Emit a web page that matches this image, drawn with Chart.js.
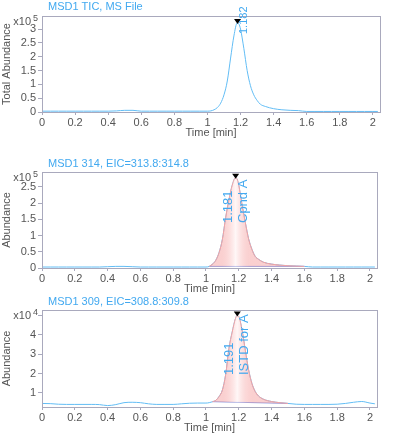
<!DOCTYPE html>
<html lang="en">
<head>
    <meta charset="UTF-8">
    <title>MSD1 Chromatograms</title>
    <style>
        body {
            margin: 0;
            padding: 0;
            background-color: #fff;
            font-family: Arial, "Liberation Sans", sans-serif;
        }
        .wrap {
            position: relative;
            width: 399px;
            height: 441px;
        }
        .wrap canvas {
            position: absolute;
            left: 0;
        }
    </style>
</head>
<body>
    <div class="wrap">
        <canvas id="ticChart" width="399" height="145" style="top:0px"></canvas>
        <canvas id="eic314Chart" width="399" height="155" style="top:145px"></canvas>
        <canvas id="eic309Chart" width="399" height="146" style="top:295px"></canvas>
    </div>

    <script src="https://cdn.jsdelivr.net/npm/chart.js"></script>
    <script>
        // retention time (min)
        const times = [0.00, 0.05, 0.10, 0.15, 0.20, 0.25, 0.30, 0.35, 0.40, 0.45, 0.50, 0.55, 0.60, 0.65, 0.70, 0.75, 0.80, 0.85, 0.90, 0.95, 1.00,
            1.02, 1.04, 1.06, 1.08, 1.10, 1.12, 1.14, 1.16, 1.18, 1.19, 1.20, 1.22, 1.24, 1.26, 1.28, 1.30, 1.32,
            1.35, 1.40, 1.45, 1.50, 1.55, 1.60, 1.65, 1.70, 1.75, 1.80, 1.85, 1.90, 1.95, 2.00, 2.03];

        // TIC, x10^5
        const ticValues = [0.03, 0.03, 0.03, 0.03, 0.03, 0.03, 0.03, 0.03, 0.03, 0.04, 0.06, 0.06, 0.03, 0.03, 0.03, 0.03, 0.03, 0.03, 0.03, 0.03, 0.03,
            0.04, 0.08, 0.16, 0.32, 0.62, 1.12, 1.95, 2.75, 3.22, 3.18, 3.00, 2.30, 1.50, 0.95, 0.62, 0.42, 0.28,
            0.20, 0.12, 0.08, 0.06, 0.05, 0.02, 0.02, 0.02, 0.02, 0.02, 0.02, 0.02, 0.02, 0.02, 0.02];

        // EIC 313.8:314.8, x10^5
        const eic314Values = [0.03, 0.03, 0.03, 0.03, 0.03, 0.03, 0.03, 0.03, 0.04, 0.05, 0.05, 0.04, 0.03, 0.03, 0.03, 0.03, 0.03, 0.03, 0.03, 0.03, 0.03,
            0.05, 0.12, 0.24, 0.48, 0.88, 1.55, 2.10, 2.55, 2.78, 2.74, 2.55, 1.95, 1.40, 0.90, 0.58, 0.36, 0.27,
            0.18, 0.12, 0.09, 0.07, 0.06, 0.05, 0.03, 0.03, 0.03, 0.03, 0.03, 0.03, 0.03, 0.03, 0.03];

        // EIC 308.8:309.8, x10^4
        const eic309Values = [0.46, 0.45, 0.42, 0.41, 0.41, 0.41, 0.41, 0.40, 0.35, 0.40, 0.50, 0.52, 0.50, 0.44, 0.41, 0.41, 0.41, 0.44, 0.47, 0.48, 0.48,
            0.50, 0.55, 0.62, 0.82, 1.15, 1.95, 3.30, 4.15, 4.85, 5.00, 4.95, 4.25, 3.20, 2.20, 1.50, 1.08, 0.85,
            0.68, 0.56, 0.50, 0.46, 0.42, 0.41, 0.41, 0.41, 0.41, 0.42, 0.46, 0.52, 0.56, 0.48, 0.44];

        // labelled ticks
        const xTicks = [0, 0.2, 0.4, 0.6, 0.8, 1, 1.2, 1.4, 1.6, 1.8, 2];
        const ticYTicks = [0, 0.5, 1, 1.5, 2, 2.5, 3];
        const eic314YTicks = [0, 0.5, 1, 1.5, 2, 2.5];
        const eic309YTicks = [1, 2, 3, 4];

        // peak retention times, compound names, integration windows
        const peakTimes = [1.182, 1.181, 1.191];
        const peakNames = ['', 'Cpnd A', 'ISTD for A'];
        const peakStarts = [null, 1.02, 1.04];
        const peakEnds = [null, 1.60, 1.50];

        const traceBlue = '#62bdf5';
        const textBlue = '#42a9f0';
        const frameGrey = '#a9a9bd';
        const tickGrey = '#555';

        function toPoints(values) {
            return times.map((t, i) => ({ x: t, y: values[i] }));
        }

        function apexOf(values) {
            return Math.max(...values);
        }

        function stepOf(list) {
            return list[1] - list[0];
        }

        function tickLabel(list) {
            return v => list.some(t => Math.abs(t - v) < 1e-6) ? String(Math.round(v * 10) / 10) : '';
        }

        // frame, titles, exponent and peak annotations
        const chromDecor = {
            id: 'chromDecor',
            afterDraw(chart, args, o) {
                const { ctx, chartArea: a, scales: { x, y } } = chart;
                ctx.save();
                ctx.strokeStyle = frameGrey;
                ctx.lineWidth = 1;
                ctx.strokeRect(a.left + 0.5, a.top + 0.5, a.right - a.left, a.bottom - a.top);

                ctx.fillStyle = textBlue;
                ctx.font = '11px Arial';
                ctx.textAlign = 'left';
                ctx.textBaseline = 'middle';
                ctx.fillText(o.title, 48, o.titleY);

                ctx.fillStyle = tickGrey;
                ctx.textAlign = 'right';
                ctx.textBaseline = 'alphabetic';
                ctx.fillText('x10', 31, a.top + 9);
                ctx.font = '9px Arial';
                ctx.textAlign = 'left';
                ctx.fillText(o.exponent, 33, a.top + 5);

                ctx.font = '11px Arial';
                ctx.textAlign = 'center';
                ctx.textBaseline = 'middle';
                ctx.fillText('Time [min]', (a.left + a.right) / 2, a.bottom + 20.5);
                ctx.save();
                ctx.translate(7, (a.top + a.bottom) / 2);
                ctx.rotate(-Math.PI / 2);
                ctx.fillText(o.yTitle, 0, 0);
                ctx.restore();

                // peak marker
                const px = x.getPixelForValue(o.peakTime);
                const py = y.getPixelForValue(o.apex);
                ctx.fillStyle = '#000';
                ctx.beginPath();
                ctx.moveTo(px - 3.5, py - 4);
                ctx.lineTo(px + 3.5, py - 4);
                ctx.lineTo(px, py + 1);
                ctx.closePath();
                ctx.fill();

                ctx.fillStyle = textBlue;
                o.labels.forEach(l => {
                    ctx.save();
                    ctx.font = l.size + 'px Arial';
                    ctx.translate(px + l.dx, a.top + o.labelStart);
                    ctx.rotate(-Math.PI / 2);
                    ctx.textAlign = 'left';
                    ctx.textBaseline = 'middle';
                    ctx.fillText(l.text, 0, 0);
                    ctx.restore();
                });
                ctx.restore();
            }
        };

        function peakFill(peakTime) {
            return function(context) {
                const chart = context.chart;
                if (!chart.chartArea) return 'rgba(0,0,0,0)';
                const xs = chart.scales.x;
                const g = chart.ctx.createLinearGradient(xs.getPixelForValue(peakTime - 0.09), 0, xs.getPixelForValue(peakTime + 0.09), 0);
                g.addColorStop(0, 'rgba(244, 150, 150, 0.45)');
                g.addColorStop(0.5, 'rgba(255, 245, 245, 0.8)');
                g.addColorStop(1, 'rgba(244, 150, 150, 0.45)');
                return g;
            };
        }

        function makeChart(id, cfg) {
            const canvas = document.getElementById(id);
            const datasets = [{
                data: toPoints(cfg.values),
                borderColor: traceBlue,
                borderWidth: 1,
                pointRadius: 0,
                cubicInterpolationMode: 'monotone',
                fill: false,
                order: 3
            }];
            if (cfg.start !== null) {
                const peakPts = toPoints(cfg.values).filter(p => p.x >= cfg.start && p.x <= cfg.end);
                datasets.push({
                    data: peakPts,
                    borderColor: '#f4a2a2',
                    borderWidth: 1,
                    pointRadius: 0,
                    cubicInterpolationMode: 'monotone',
                    backgroundColor: peakFill(cfg.peakTime),
                    fill: 2,
                    order: 1
                });
                datasets.push({
                    data: [peakPts[0], peakPts[peakPts.length - 1]],
                    borderColor: '#8f9be0',
                    borderWidth: 1,
                    pointRadius: 0,
                    fill: false,
                    order: 2
                });
            }
            return new Chart(canvas, {
                type: 'line',
                data: { datasets: datasets },
                plugins: [chromDecor],
                options: {
                    responsive: false,
                    animation: false,
                    layout: {
                        autoPadding: false,
                        padding: { top: cfg.top, right: cfg.right, left: 0, bottom: 0 }
                    },
                    plugins: {
                        legend: { display: false },
                        tooltip: { enabled: false },
                        chromDecor: {
                            title: cfg.title,
                            titleY: cfg.titleY,
                            exponent: cfg.exponent,
                            yTitle: cfg.yTitle,
                            peakTime: cfg.peakTime,
                            apex: apexOf(cfg.values),
                            labels: cfg.labels,
                            labelStart: cfg.labelStart
                        }
                    },
                    scales: {
                        x: {
                            type: 'linear',
                            min: 0,
                            max: 2.043,
                            afterFit: s => { s.height = cfg.xHeight; },
                            ticks: {
                                stepSize: stepOf(xTicks),
                                includeBounds: false,
                                autoSkip: false,
                                maxRotation: 0,
                                color: tickGrey,
                                font: { family: 'Arial', size: 11 },
                                padding: 1,
                                callback: tickLabel(xTicks)
                            },
                            grid: { drawOnChartArea: false, tickLength: 3, color: frameGrey },
                            border: { display: false }
                        },
                        y: {
                            type: 'linear',
                            min: cfg.yMin,
                            max: cfg.yMax,
                            afterFit: s => { s.width = 42; },
                            ticks: {
                                stepSize: stepOf(cfg.yTicks),
                                includeBounds: false,
                                autoSkip: false,
                                autoSkipPadding: 0,
                                color: tickGrey,
                                font: { family: 'Arial', size: 11, lineHeight: 1 },
                                padding: 2,
                                callback: tickLabel(cfg.yTicks)
                            },
                            grid: { drawOnChartArea: false, tickLength: 4, color: frameGrey },
                            border: { display: false }
                        }
                    }
                }
            });
        }

        makeChart('ticChart', {
            values: ticValues, yTicks: ticYTicks, yMin: 0, yMax: 3.47,
            top: 16, right: 19, xHeight: 33,
            title: 'MSD1 TIC, MS File', titleY: 7, exponent: '5', yTitle: 'Total Abundance',
            peakTime: peakTimes[0], start: peakStarts[0], end: peakEnds[0],
            labels: [{ text: peakTimes[0].toFixed(3), dx: 6, size: 11 }], labelStart: 18
        });

        makeChart('eic314Chart', {
            values: eic314Values, yTicks: eic314YTicks, yMin: 0, yMax: 2.96,
            top: 27, right: 22, xHeight: 32,
            title: 'MSD1 314, EIC=313.8:314.8', titleY: 18.5, exponent: '5', yTitle: 'Abundance',
            peakTime: peakTimes[1], start: peakStarts[1], end: peakEnds[1],
            labels: [{ text: peakTimes[1].toFixed(3), dx: -7, size: 13 }, { text: peakNames[1], dx: 8, size: 13 }], labelStart: 51
        });

        makeChart('eic309Chart', {
            values: eic309Values, yTicks: eic309YTicks, yMin: 0.276, yMax: 5.29,
            top: 15, right: 22, xHeight: 34,
            title: 'MSD1 309, EIC=308.8:309.8', titleY: 6.5, exponent: '4', yTitle: 'Abundance',
            peakTime: peakTimes[2], start: peakStarts[2], end: peakEnds[2],
            labels: [{ text: peakTimes[2].toFixed(3), dx: -8, size: 13 }, { text: peakNames[2], dx: 7, size: 13 }], labelStart: 65
        });
    </script>
</body>
</html>
